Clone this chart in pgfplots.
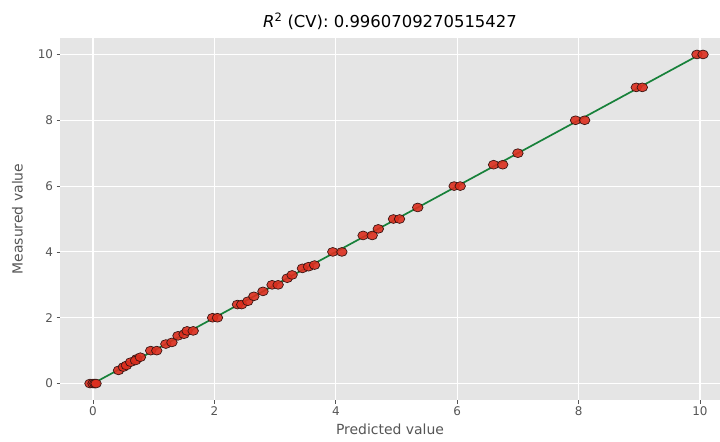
\documentclass[border=0pt]{standalone}
\usepackage{pgfplots}
\pgfplotsset{compat=1.18}
\usepackage{fontspec}
\setmainfont{DejaVu Sans}
\definecolor{bg}{HTML}{E5E5E5}
\definecolor{tickgray}{HTML}{555555}
\definecolor{ptfill}{HTML}{DC2E1E}
\definecolor{ptedge}{HTML}{3A1512}
\definecolor{linegreen}{HTML}{17813A}
\begin{document}
\begin{tikzpicture}
\useasboundingbox (-60bp,-42bp) rectangle (660bp,400bp);
\begin{axis}[
  at={(0,0)}, anchor=south west,
  scale only axis, width=660bp, height=362bp,
  xmin=-0.544, xmax=10.33, ymin=-0.5, ymax=10.5,
  axis background/.style={fill=bg},
  axis line style={draw=none},
  grid=major, major grid style={white, line width=1.1pt},
  xtick={0,2,4,6,8,10}, ytick={0,2,4,6,8,10},
  tick align=outside, major tick length=3.5bp,
  tick style={tickgray, line width=0.8pt},
  xtick pos=bottom, ytick pos=left,
  ticklabel style={font=\fontsize{12}{14}\selectfont, text=tickgray},
  /pgf/number format/assume math mode=true,
  xlabel={Predicted value}, ylabel={Measured value},
  label style={font=\fontsize{14}{16}\selectfont, text=tickgray},
  xlabel style={yshift=-1bp},
  ylabel style={yshift=8bp},
  title={{\itshape R}\textsuperscript{2} (CV): 0.9960709270515427},
  title style={font=\fontsize{16.5}{19}\selectfont, yshift=-1bp},
  clip=false,
]
\addplot[only marks, mark=*, mark size=4.4bp,
  mark options={fill=ptfill, draw=ptedge, line width=0.7pt, fill opacity=0.9, xscale=1.2}]
coordinates {
(-0.05,0) (0,0) (0.03,0) (0.05,0)
(0.42,0.4) (0.5,0.5) (0.55,0.55) (0.62,0.65) (0.72,0.75) (0.7,0.7) (0.78,0.8)
(0.95,1.0) (1.05,1.0) (1.2,1.2) (1.3,1.25) (1.4,1.45) (1.5,1.5) (1.55,1.6) (1.65,1.6)
(1.97,2.0) (2.05,2.0) (2.38,2.4) (2.45,2.4) (2.55,2.5) (2.65,2.65) (2.8,2.8)
(2.95,3.0) (3.05,3.0) (3.2,3.2) (3.28,3.3) (3.45,3.5) (3.55,3.55) (3.65,3.6)
(3.95,4.0) (4.1,4.0) (4.45,4.5) (4.6,4.5) (4.7,4.7) (4.95,5.0) (5.05,5.0) (5.35,5.35)
(5.95,6.0) (6.05,6.0) (6.6,6.65) (6.75,6.65) (7.0,7.0) (7.95,8.0) (8.1,8.0)
(8.95,9.0) (9.05,9.0) (9.95,10) (10.05,10)
};
\addplot[linegreen, line width=1.7pt] coordinates {(0,0) (10,10)};
\end{axis}
\end{tikzpicture}
\end{document}
